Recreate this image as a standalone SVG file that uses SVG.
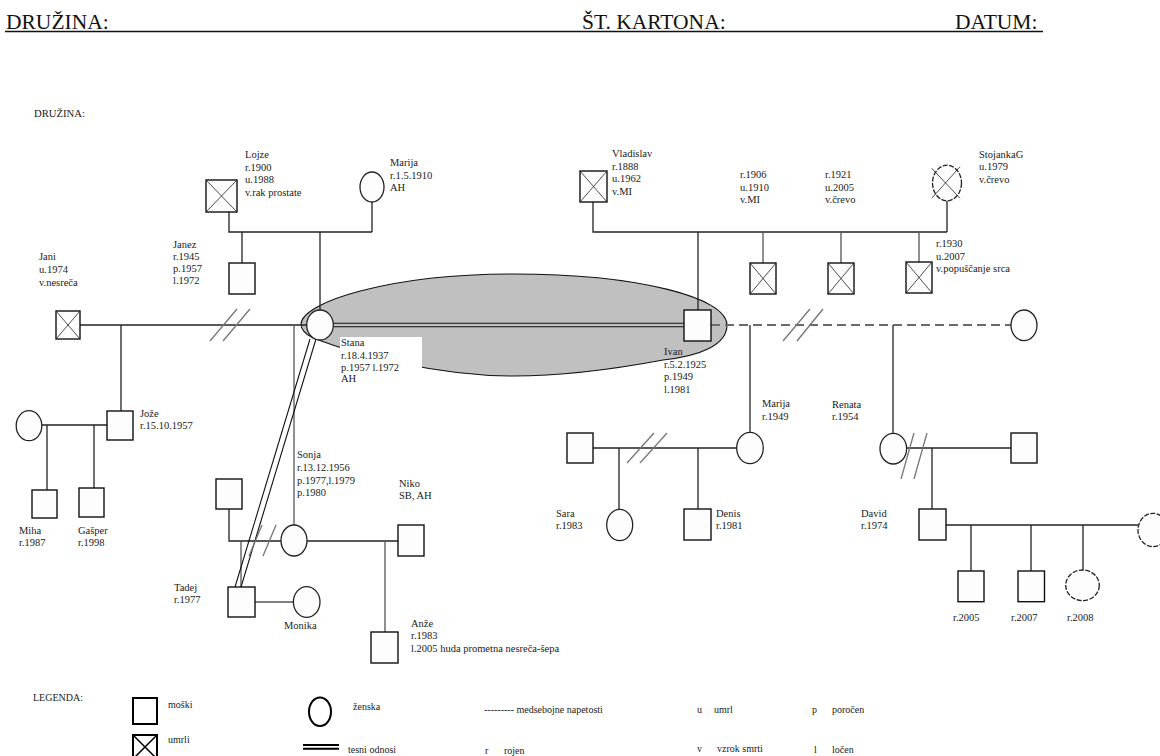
<svg xmlns="http://www.w3.org/2000/svg" width="1160" height="756" viewBox="0 0 1160 756" font-family="'Liberation Serif', 'Times New Roman', 'DejaVu Serif', serif">
<style>
text{font-family:'Liberation Serif','Times New Roman','DejaVu Serif',serif}
.t{font-size:10.5px;fill:#1a1a1a}
.lg{font-size:10px;fill:#1a1a1a}
.h{font-size:21.5px;fill:#111}
.sq{fill:#fdfdfd;stroke:#111;stroke-width:1.4}
.ci{fill:#fdfdfd;stroke:#222;stroke-width:1.3}
.dc{stroke-dasharray:5 1.5}
.x{stroke:#222;stroke-width:0.8}
.ln{fill:none;stroke:#222;stroke-width:1.3}
.gl{fill:none;stroke:#555;stroke-width:1.3}
.sl{stroke:#777;stroke-width:1.3}
.dl{fill:none;stroke:#111;stroke-width:1.1}
.ds{fill:none;stroke:#6a6a6a;stroke-width:2;stroke-dasharray:9 5}
.lk{fill:none;stroke:#000;stroke-width:2}
</style>

<g id="header">
<text class="h" x="6" y="29">DRUŽINA:</text>
<text class="h" x="582" y="29">ŠT. KARTONA:</text>
<text class="h" x="955" y="29">DATUM:</text>
<line x1="5" y1="31.5" x2="1043" y2="31.5" stroke="#111" stroke-width="1.5"/>
<text class="t" x="34" y="117" font-size="8" textLength="51" lengthAdjust="spacingAndGlyphs">DRUŽINA:</text>
</g>

<g id="close-bond">
<path d="M301,324 C302,302 390,274 513,274 C640,274 727,298 727,325 C727,345 700,356 663,360 C610,370 560,376 513,376 C440,376 360,356 313,338 C305,334 301,330 301,324 Z" fill="#c0c0c0" stroke="#111" stroke-width="1.1"/>
<rect x="340" y="337" width="82" height="40" fill="#ffffff"/>
</g>

<g id="connectors">
<path class="ln" d="M229,212 V232 H372 M372,202 V232"/>
<path class="ln" d="M242,232 V263"/>
<path class="ln" d="M320,232 V310"/>
<path class="ln" d="M80,325 H307"/>
<path class="ln" d="M121,325 V411"/>
<path class="gl" d="M294,325 V525"/>
<path class="ln" d="M42,425 H107"/>
<path class="ln" d="M47,425 V490"/>
<path class="ln" d="M94,425 V488"/>
<path class="ln" d="M229,509 V541 H281"/>
<path class="gl" d="M241,541 V587"/>
<path class="ln" d="M307,541 H398"/>
<path class="gl" d="M385,541 V632"/>
<path class="gl" d="M255,602 H293"/>
<path class="ln" d="M593,202 V232 H947 M947,201 V232"/>
<path class="ln" d="M698,232 V310"/>
<path class="gl" d="M763,232 V263 M841,232 V263 M919,232 V262"/>
<path class="dl" d="M333,323.3 H684 M333,326.7 H684"/>
<path class="ds" d="M711,325 H1011"/>
<path class="ln" d="M750,325 V433"/>
<path class="ln" d="M593,448 H737"/>
<path class="ln" d="M619,448 V509 M698,448 V509"/>
<path class="ln" d="M893,325 V433"/>
<path class="ln" d="M907,448 H1011"/>
<path class="ln" d="M932,448 V509"/>
<path class="ln" d="M946,525 H1138"/>
<path class="ln" d="M971,525 V571 M1031,525 V571 M1083,525 V570"/>
<path class="dl" d="M310,339 L235,587 M316,339 L241,587"/>
<line class="sl" x1="210" y1="341" x2="237" y2="309"/>
<line class="sl" x1="223" y1="341" x2="250" y2="309"/>
<line class="sl" x1="783" y1="341" x2="810" y2="309"/>
<line class="sl" x1="797" y1="341" x2="823" y2="309"/>
<line class="sl" x1="627" y1="463" x2="654" y2="433"/>
<line class="sl" x1="640" y1="463" x2="667" y2="433"/>
<line class="sl" x1="901" y1="479" x2="914" y2="433" stroke="#555"/>
<line class="sl" x1="914" y1="479" x2="927" y2="433" stroke="#555"/>
<line class="sl" x1="249" y1="556" x2="262" y2="525"/>
<line class="sl" x1="263" y1="556" x2="276" y2="525"/>
</g>

<g id="lojze">
<rect class="sq" x="206" y="180" width="31" height="32"/>
<path class="x" d="M206,180 L237,212 M237,180 L206,212"/>
<text class="t" x="245" y="158">Lojze</text>
<text class="t" x="245" y="170.5">r.1900</text>
<text class="t" x="245" y="183">u.1988</text>
<text class="t" x="245" y="195.5">v.rak prostate</text>
</g>

<g id="marija-1910">
<ellipse class="ci" cx="372" cy="187" rx="12" ry="15"/>
<text class="t" x="390" y="166">Marija</text>
<text class="t" x="390" y="178.5">r.1.5.1910</text>
<text class="t" x="390" y="191">AH</text>
</g>

<g id="janez">
<rect class="sq" x="229" y="263" width="26" height="31"/>
<text class="t" x="173" y="247.5">Janez</text>
<text class="t" x="173" y="259.5">r.1945</text>
<text class="t" x="173" y="271.5">p.1957</text>
<text class="t" x="173" y="284">l.1972</text>
</g>

<g id="jani">
<rect class="sq" x="56" y="311" width="24" height="28"/>
<path class="x" d="M56,311 L80,339 M80,311 L56,339"/>
<text class="t" x="39" y="260">Jani</text>
<text class="t" x="39" y="273">u.1974</text>
<text class="t" x="39" y="285.5">v.nesreča</text>
</g>

<g id="stana">
<ellipse class="ci" cx="320" cy="325" rx="13.3" ry="15" stroke-width="1.6"/>
<text class="t" x="341" y="346">Stana</text>
<text class="t" x="341" y="358.5">r.18.4.1937</text>
<text class="t" x="341" y="370.5">p.1957  l.1972</text>
<text class="t" x="341" y="382">AH</text>
</g>

<g id="ivan">
<rect class="sq" x="684" y="310" width="27" height="31"/>
<text class="t" x="664" y="355">Ivan</text>
<text class="t" x="664" y="367.5">r.5.2.1925</text>
<text class="t" x="664" y="380">p.1949</text>
<text class="t" x="664" y="392.5">l.1981</text>
</g>

<g id="ivan-partner">
<ellipse class="ci" cx="1024" cy="325.3" rx="13" ry="15.3"/>
</g>

<g id="vladislav">
<rect class="sq" x="580" y="171" width="27" height="31"/>
<path class="x" d="M580,171 L607,202 M607,171 L580,202"/>
<text class="t" x="612" y="157">Vladislav</text>
<text class="t" x="612" y="169.5">r.1888</text>
<text class="t" x="612" y="182">u.1962</text>
<text class="t" x="612" y="195">v.MI</text>
</g>

<g id="stojanka">
<ellipse class="ci dc" cx="947" cy="183" rx="14.5" ry="17.8"/>
<path class="x" d="M931.7,168.3 L960,198.3 M960,166.7 L931.7,198.3"/>
<text class="t" x="979" y="157.5">StojankaG</text>
<text class="t" x="979" y="170">u.1979</text>
<text class="t" x="979" y="182.5">v.črevo</text>
</g>

<g id="sibling-1906">
<rect class="sq" x="750" y="263" width="26" height="31"/>
<path class="x" d="M750,263 L776,294 M776,263 L750,294"/>
<text class="t" x="740" y="178">r.1906</text>
<text class="t" x="740" y="190.5">u.1910</text>
<text class="t" x="740" y="203">v.MI</text>
</g>

<g id="sibling-1921">
<rect class="sq" x="828" y="263" width="26" height="31"/>
<path class="x" d="M828,263 L854,294 M854,263 L828,294"/>
<text class="t" x="825" y="178">r.1921</text>
<text class="t" x="825" y="190.5">u.2005</text>
<text class="t" x="825" y="203">v.črevo</text>
</g>

<g id="sibling-1930">
<rect class="sq" x="906" y="262" width="26" height="31"/>
<path class="x" d="M906,262 L932,293 M932,262 L906,293"/>
<text class="t" x="936" y="247">r.1930</text>
<text class="t" x="936" y="259.5">u.2007</text>
<text class="t" x="936" y="272">v.popuščanje srca</text>
</g>

<g id="joze">
<rect class="sq" x="107" y="411" width="26" height="29"/>
<text class="t" x="140" y="417">Jože</text>
<text class="t" x="140" y="429">r.15.10.1957</text>
</g>

<g id="joze-wife">
<ellipse class="ci" cx="29" cy="425.7" rx="12.8" ry="15"/>
</g>

<g id="miha">
<rect class="sq" x="32" y="490" width="25" height="28"/>
<text class="t" x="19" y="534">Miha</text>
<text class="t" x="19" y="546">r.1987</text>
</g>

<g id="gasper">
<rect class="sq" x="79" y="488" width="25" height="29"/>
<text class="t" x="78" y="534">Gašper</text>
<text class="t" x="78" y="546">r.1998</text>
</g>

<g id="sonja-ex">
<rect class="sq" x="216" y="479" width="26" height="30"/>
</g>

<g id="sonja">
<ellipse class="ci" cx="294" cy="540.5" rx="13" ry="15.5"/>
<text class="t" x="297" y="458">Sonja</text>
<text class="t" x="297" y="471">r.13.12.1956</text>
<text class="t" x="297" y="483.5">p.1977,l.1979</text>
<text class="t" x="297" y="496">p.1980</text>
</g>

<g id="niko">
<rect class="sq" x="398" y="525" width="26" height="31"/>
<text class="t" x="399" y="487">Niko</text>
<text class="t" x="399" y="499">SB, AH</text>
</g>

<g id="tadej">
<rect class="sq" x="228" y="587" width="27" height="30"/>
<text class="t" x="174" y="591">Tadej</text>
<text class="t" x="174" y="603">r.1977</text>
</g>

<g id="monika">
<ellipse class="ci" cx="306.7" cy="602" rx="13.3" ry="15.3"/>
<text class="t" x="284" y="628.5">Monika</text>
</g>

<g id="anze">
<rect class="sq" x="371" y="632" width="27" height="31"/>
<text class="t" x="411" y="627">Anže</text>
<text class="t" x="411" y="639">r.1983</text>
<text class="t" x="411" y="652">l.2005 huda prometna nesreča-šepa</text>
</g>

<g id="marija-1949">
<ellipse class="ci" cx="750" cy="448" rx="13.3" ry="15.7"/>
<text class="t" x="762" y="407">Marija</text>
<text class="t" x="762" y="419.5">r.1949</text>
</g>

<g id="marija-husband">
<rect class="sq" x="567" y="433" width="26" height="30"/>
</g>

<g id="sara">
<ellipse class="ci" cx="619.7" cy="525" rx="13" ry="15.7"/>
<text class="t" x="556" y="517">Sara</text>
<text class="t" x="556" y="529">r.1983</text>
</g>

<g id="denis">
<rect class="sq" x="684" y="509" width="27" height="31"/>
<text class="t" x="716" y="517">Denis</text>
<text class="t" x="716" y="529">r.1981</text>
</g>

<g id="renata">
<ellipse class="ci" cx="893.3" cy="448.7" rx="13.3" ry="15.3"/>
<text class="t" x="832" y="407.5">Renata</text>
<text class="t" x="832" y="419.5">r.1954</text>
</g>

<g id="renata-husband">
<rect class="sq" x="1011" y="433" width="26" height="30"/>
</g>

<g id="david">
<rect class="sq" x="919" y="509" width="27" height="31"/>
<text class="t" x="861" y="517">David</text>
<text class="t" x="861" y="529">r.1974</text>
</g>

<g id="david-wife">
<ellipse class="ci dc" cx="1153" cy="530" rx="15" ry="16.7"/>
</g>

<g id="child-2005">
<rect class="sq" x="958" y="571" width="26" height="30.7"/>
<text class="t" x="953" y="621">r.2005</text>
</g>

<g id="child-2007">
<rect class="sq" x="1018" y="571" width="26.5" height="30.7"/>
<text class="t" x="1011" y="621">r.2007</text>
</g>

<g id="child-2008">
<ellipse class="ci dc" cx="1082.5" cy="585.3" rx="16.8" ry="15.3"/>
<text class="t" x="1067" y="621">r.2008</text>
</g>

<g id="legend">
<text class="lg" x="33" y="701" font-size="8.5">LEGENDA:</text>
<rect x="133" y="698" width="24" height="26" fill="#fff" stroke="#000" stroke-width="2"/>
<text class="lg" x="168" y="707.5">moški</text>
<rect x="133" y="735" width="24" height="24" fill="#fff" stroke="#000" stroke-width="2"/>
<path d="M133,735 L157,759 M157,735 L133,759" stroke="#000" stroke-width="1.5"/>
<text class="lg" x="168" y="743">umrli</text>
<ellipse cx="320" cy="711.7" rx="11" ry="14.3" fill="#fff" stroke="#000" stroke-width="2"/>
<text class="lg" x="353" y="709.5">ženska</text>
<path class="lk" d="M303,745 H339 M303,748.7 H339"/>
<text class="lg" x="348" y="752.5">tesni odnosi</text>
<text class="lg" x="484" y="713">--------- medsebojne napetosti</text>
<text class="lg" x="485" y="753.5">r</text>
<text class="lg" x="504" y="753.5">rojen</text>
<text class="lg" x="697" y="713">u</text>
<text class="lg" x="714" y="713">umrl</text>
<text class="lg" x="697" y="752">v</text>
<text class="lg" x="717" y="752">vzrok smrti</text>
<text class="lg" x="812" y="713">p</text>
<text class="lg" x="832" y="713">poročen</text>
<text class="lg" x="814" y="752.5">l</text>
<text class="lg" x="832" y="752.5">ločen</text>
</g>
</svg>
